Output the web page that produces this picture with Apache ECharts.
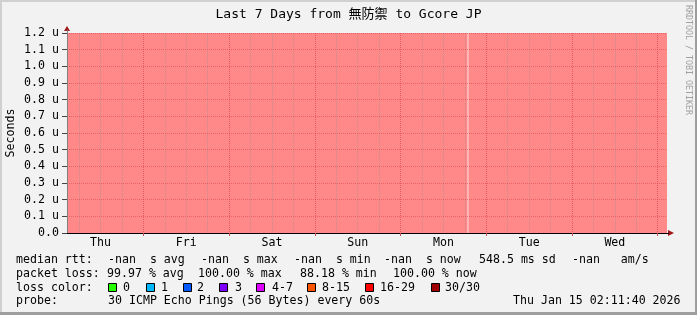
<!DOCTYPE html>
<html><head><meta charset="utf-8">
<script src="https://cdn.jsdelivr.net/npm/echarts@6/dist/echarts.min.js"></script>
<style>html,body{margin:0;padding:0;background:#f2f2f2;} #c{width:697px;height:315px;}</style>
</head><body><div id="c"></div>
<script>
// ---- data ----
const titleText = 'Last 7 Days from 無防禦 to Gcore JP';
const yAxisTitle = 'Seconds';
const dayNames = ['Thu', 'Fri', 'Sat', 'Sun', 'Mon', 'Tue', 'Wed'];
const spanHours = 168;            // 7 days shown
const firstMidnight = 21.4;       // hours from graph start to first midnight
const yMax = 1.2;                 // seconds (micro)
// loss segments (hours since start)
const segStart = [0, 112.0, 112.55];
const segEnd = [112.0, 112.55, 168];
const segLoss = [100, 88, 100];   // packet loss %
const lossLabels = ['0', '1', '2', '3', '4-7', '8-15', '16-29', '30/30'];
const lossColors = ['#26ff00', '#00b8ff', '#0059ff', '#7e00ff', '#dd00ff', '#ff5500', '#ff0000', '#a10000'];
const rttLine = [['median rtt:', 16], ['-nan  s avg', 108], ['-nan  s max', 201], ['-nan  s min', 294], ['-nan  s now', 384], ['548.5 ms sd', 479], ['-nan   am/s', 572]];
const lossLine = [['packet loss:', 16], ['99.97 % avg', 107], ['100.00 % max', 198], ['88.18 % min', 300], ['100.00 % now', 393]];
const probeLine = [['probe:', 16], ['30 ICMP Echo Pings (56 Bytes) every 60s', 108], ['Thu Jan 15 02:11:40 2026', 513]];
const boxX = [108, 146, 183, 219, 256, 307, 365, 431];
const boxLabelX = [123, 161, 197, 235, 272, 322, 380, 445];

// ---- derived ticks ----
const majorHours = [], noonHours = [], minorHours = [];
for (let h = firstMidnight; h <= spanHours; h += 24) majorHours.push(+h.toFixed(3));
for (let h = firstMidnight - 12; h <= spanHours; h += 24) if (h >= 0) noonHours.push(+h.toFixed(3));
for (let h = firstMidnight - 18; h <= spanHours; h += 6) {
  if (h >= 0 && !majorHours.some(m => Math.abs(m - h) < 0.01)) minorHours.push(+h.toFixed(3));
}

const FONT = "'DejaVu Sans Mono', 'Noto Sans CJK JP', monospace";
const FS = 11.6;
const chart = echarts.init(document.getElementById('c'), null, {renderer: 'canvas'});

function lossFill(l) { return l >= 100 ? '#ff8888' : '#ffb4b4'; }

const graphics = [];
// frame
graphics.push({type: 'rect', shape: {x: 0, y: 0, width: 697, height: 2}, style: {fill: '#d0d0d0'}, silent: true});
graphics.push({type: 'rect', shape: {x: 0, y: 0, width: 2, height: 315}, style: {fill: '#d0d0d0'}, silent: true});
graphics.push({type: 'rect', shape: {x: 695, y: 0, width: 2, height: 315}, style: {fill: '#9e9e9e'}, silent: true});
graphics.push({type: 'rect', shape: {x: 0, y: 312, width: 697, height: 3}, style: {fill: '#9e9e9e'}, silent: true});
// title
graphics.push({type: 'text', x: 348.5, y: 15, style: {text: titleText, font: `13px ${FONT}`, fill: '#000', align: 'center', verticalAlign: 'middle'}});
// y axis title
graphics.push({type: 'text', x: 10.5, y: 133, rotation: Math.PI / 2, style: {text: yAxisTitle, font: `${FS}px ${FONT}`, fill: '#000', align: 'center', verticalAlign: 'middle'}});
// watermark
graphics.push({type: 'text', x: 688, y: 5, rotation: -Math.PI / 2, style: {text: 'RRDTOOL / TOBI OETIKER', font: `8.3px ${FONT}`, fill: '#a0a0a0', align: 'left', verticalAlign: 'middle'}});
function addLine(items, y) {
  items.forEach(([t, x]) => graphics.push({type: 'text', x: x, y: y, style: {text: t, font: `${FS}px ${FONT}`, fill: '#000', align: 'left', verticalAlign: 'middle'}}));
}
addLine(rttLine, 259.5);
addLine(lossLine, 273.5);
addLine([['loss color:', 16]], 287.5);
lossLabels.forEach((l, i) => {
  graphics.push({type: 'rect', shape: {x: boxX[i] + 0.5, y: 283.5, width: 8, height: 8}, style: {fill: lossColors[i], stroke: '#000', lineWidth: 1}});
  graphics.push({type: 'text', x: boxLabelX[i], y: 287.5, style: {text: l, font: `${FS}px ${FONT}`, fill: '#000', align: 'left', verticalAlign: 'middle'}});
});
addLine(probeLine, 300.5);

const option = {
  animation: false,
  backgroundColor: '#f2f2f2',
  grid: {left: 67, top: 33, width: 600, height: 200, containLabel: false, outerBoundsMode: 'none'},
  xAxis: [{
    type: 'value', min: 0, max: spanHours, z: 3,
    axisLine: {show: true, lineStyle: {color: '#000', width: 1}},
    axisTick: {show: true, customValues: majorHours, length: 3, lineStyle: {color: '#c05050'}},
    axisLabel: {show: true, customValues: noonHours, margin: 4, color: '#000', fontFamily: FONT, fontSize: FS,
      formatter: v => dayNames[Math.round((v - (firstMidnight - 12)) / 24)] || ''},
    splitLine: {show: true, lineStyle: {color: 'rgba(200,40,40,0.45)', type: [1, 1], width: 1}}
  }, {
    type: 'value', min: 0, max: spanHours, z: 2.5, position: 'bottom',
    axisLine: {show: false}, axisLabel: {show: false},
    axisTick: {show: false, customValues: minorHours},
    splitLine: {show: true, lineStyle: {color: 'rgba(140,140,140,0.45)', type: [1, 1], width: 1}}
  }],
  yAxis: [{
    type: 'value', min: 0, max: yMax, interval: 0.1, z: 3,
    axisLine: {show: true, lineStyle: {color: '#808080'}},
    axisTick: {show: true, length: 5, lineStyle: {color: '#444'}},
    axisLabel: {margin: 8, color: '#000', fontFamily: FONT, fontSize: FS,
      formatter: v => (Math.abs(v) < 1e-9 ? '0.0' : v.toFixed(1) + ' u')},
    splitLine: {show: true, lineStyle: {color: 'rgba(200,40,40,0.4)', type: [1, 1], width: 1}}
  }],
  series: [{
    type: 'custom', xAxisIndex: 0, yAxisIndex: 0, z: 1,
    encode: {x: [0, 1], y: 3},
    renderItem: (params, api) => {
      const p0 = api.coord([api.value(0), api.value(3)]);
      const p1 = api.coord([api.value(1), 0]);
      return {type: 'rect', shape: {x: p0[0], y: p0[1], width: p1[0] - p0[0], height: p1[1] - p0[1]},
        style: {fill: lossFill(api.value(2))}};
    },
    data: segStart.map((s, i) => [s, segEnd[i], segLoss[i], yMax])
  }],
  graphic: graphics
};
chart.setOption(option);

// axis arrows (decoration) positioned through the axes
const topPt = chart.convertToPixel({gridIndex: 0}, [0, yMax]);
const rightPt = chart.convertToPixel({gridIndex: 0}, [spanHours, 0]);
chart.setOption({graphic: graphics.concat([
  {type: 'polygon', shape: {points: [[topPt[0], topPt[1] - 7], [topPt[0] - 3, topPt[1] - 2], [topPt[0] + 3, topPt[1] - 2]]}, style: {fill: '#a01818'}},
  {type: 'line', shape: {x1: topPt[0] + 0.5, y1: topPt[1] - 3, x2: topPt[0] + 0.5, y2: topPt[1]}, style: {stroke: '#808080'}},
  {type: 'polygon', shape: {points: [[rightPt[0] + 7, rightPt[1]], [rightPt[0] + 1, rightPt[1] - 3], [rightPt[0] + 1, rightPt[1] + 3]]}, style: {fill: '#a01818'}},
  {type: 'line', shape: {x1: rightPt[0], y1: rightPt[1] + 0.5, x2: rightPt[0] + 2, y2: rightPt[1] + 0.5}, style: {stroke: '#000'}}
])}, {replaceMerge: ['graphic']});
</script>
</body></html>
